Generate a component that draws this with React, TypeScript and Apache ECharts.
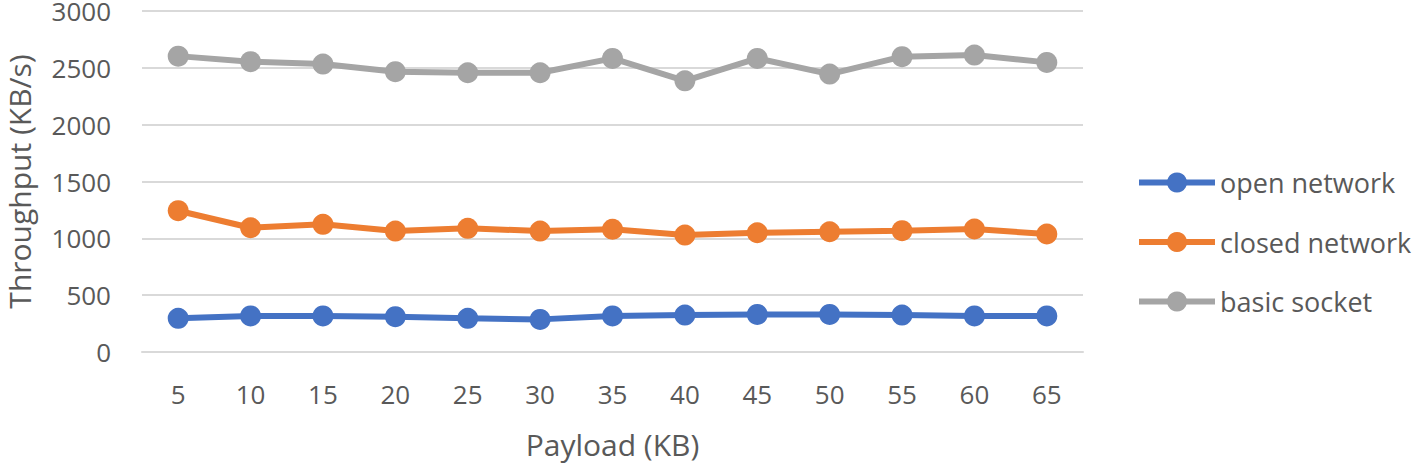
import React, { useEffect, useRef } from "react";
import * as echarts from "echarts";

const payloads = ["5", "10", "15", "20", "25", "30", "35", "40", "45", "50", "55", "60", "65"];
const openNetwork = [296, 317, 317, 311, 296, 287, 317, 325, 331, 331, 325, 317, 317];
const closedNetwork = [1243, 1093, 1123, 1064, 1088, 1064, 1080, 1029, 1049, 1058, 1067, 1082, 1038];
const basicSocket = [2603, 2554, 2533, 2466, 2457, 2457, 2583, 2386, 2583, 2445, 2598, 2612, 2548];
const yTicks = { min: 0, max: 3000, interval: 500 };

const FONT = "'Open Sans', 'Noto Sans', sans-serif";
const TEXT = "#595959";

export default function App() {
  const ref = useRef<HTMLDivElement>(null);
  useEffect(() => {
    if (!ref.current) return;
    const chart = echarts.init(ref.current, undefined, { renderer: "svg" });
    const mk = (name: string, data: number[], color: string) => ({
      name,
      type: "line",
      data,
      symbol: "circle",
      symbolSize: 21,
      lineStyle: { width: 6, color },
      itemStyle: { color },
    });
    chart.setOption({
      animation: false,
      textStyle: { fontFamily: FONT },
      grid: {
        left: 142,
        right: 335,
        top: 11,
        bottom: 112,
        containLabel: false,
        outerBoundsMode: "none",
      },
      legend: {
        orient: "vertical",
        left: 1136,
        top: 169,
        padding: 0,
        itemWidth: 76,
        itemHeight: 25,
        itemGap: 32.5,
        lineStyle: { width: 6 },
        textStyle: { fontFamily: FONT, fontSize: 27, color: TEXT },
        data: ["open network", "closed network", "basic socket"],
      },
      xAxis: {
        type: "category",
        data: payloads,
        boundaryGap: true,
        name: "Payload (KB)",
        nameLocation: "middle",
        nameGap: 77,
        nameTextStyle: { fontFamily: FONT, fontSize: 30, color: TEXT },
        axisLine: { show: true, lineStyle: { color: "#D9D9D9", width: 2 } },
        axisTick: { show: false },
        axisLabel: { fontFamily: FONT, fontSize: 26, color: TEXT, margin: 29 },
      },
      yAxis: {
        type: "value",
        min: yTicks.min,
        max: yTicks.max,
        interval: yTicks.interval,
        name: "Throughput (KB/s)",
        nameLocation: "middle",
        nameGap: 108,
        nameTextStyle: { fontFamily: FONT, fontSize: 30, color: TEXT },
        axisLine: { show: false },
        axisTick: { show: false },
        axisLabel: {
          fontFamily: FONT,
          fontSize: 26,
          color: TEXT,
          margin: 31,
          formatter: (v: number) => String(v),
        },
        splitLine: { lineStyle: { color: "#D9D9D9", width: 2 } },
      },
      series: [
        mk("open network", openNetwork, "#4472C4"),
        mk("closed network", closedNetwork, "#ED7D31"),
        mk("basic socket", basicSocket, "#A5A5A5"),
      ],
    });
    return () => chart.dispose();
  }, []);
  return (
    <div
      ref={ref}
      style={{ position: "fixed", left: 0, top: 0, width: 1418, height: 464, background: "#fff" }}
    />
  );
}
